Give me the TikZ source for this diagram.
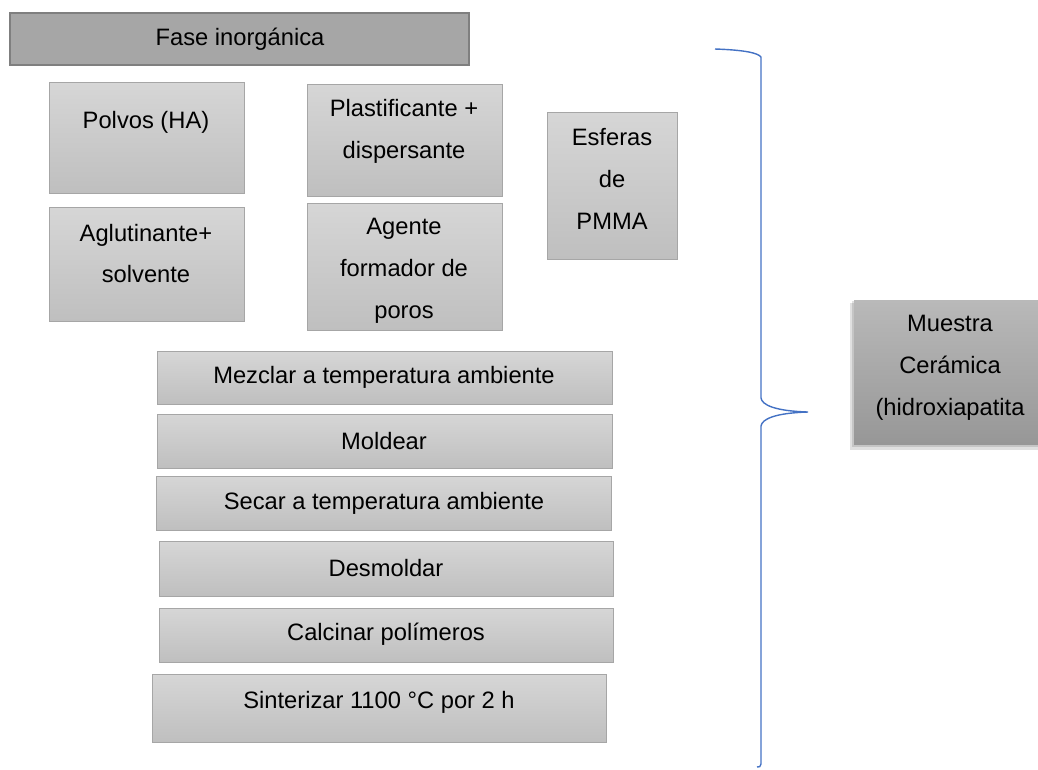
\documentclass[tikz,border=0pt]{standalone}
\usepackage{fontspec}
\setmainfont{Liberation Sans}
\usepackage{tikz}
\definecolor{boxtop}{HTML}{D6D6D6}
\definecolor{boxbot}{HTML}{BFBFBF}
\definecolor{boxline}{HTML}{A6A6A6}
\definecolor{headfill}{HTML}{A6A6A6}
\definecolor{headline}{HTML}{7F7F7F}
\definecolor{resultop}{HTML}{B9B9B9}
\definecolor{resulbot}{HTML}{979797}
\definecolor{bracecol}{HTML}{4472C4}

\begin{document}
\begin{tikzpicture}[
  x=0.02cm,
  y=-0.02cm,
  graybox/.style={
    draw=boxline,
    line width=0.5pt,
    top color=boxtop,
    bottom color=boxbot
  },
  lbl/.style={
    align=center,
    inner sep=0pt,
    font=\fontsize{13.5}{23.8}\selectfont
  }
]
\useasboundingbox (0,0) rectangle (1038,769);
% encabezado
\filldraw[fill=headfill, draw=headline, line width=1.1pt] (10,13) rectangle (469,65);
\node[lbl] (fase) at (240,39) {Fase inorgánica};
% componentes
\shadedraw[graybox] (49,82) rectangle (244,193);
\shadedraw[graybox] (49,207) rectangle (244,321);
\shadedraw[graybox] (307,84) rectangle (502,196);
\shadedraw[graybox] (307,203) rectangle (502,330);
\shadedraw[graybox] (547,112) rectangle (677,259);
\node[lbl] (polvos) at (146,122) {Polvos (HA)};
\node[lbl] (aglut) at (146,253.5) {Aglutinante+\\solvente};
\node[lbl] (plast) at (404,131) {Plastificante +\\dispersante};
\node[lbl] (agente) at (404,271) {Agente\\formador de\\poros};
\node[lbl] (esferas) at (612,179) {Esferas\\de\\PMMA};
% pasos
\shadedraw[graybox] (157,351) rectangle (612,404);
\shadedraw[graybox] (157,414) rectangle (612,468);
\shadedraw[graybox] (156,476) rectangle (611,530);
\shadedraw[graybox] (159,541) rectangle (613,596);
\shadedraw[graybox] (159,608) rectangle (613,662);
\shadedraw[graybox] (152,674) rectangle (606,742);
\node[lbl] (mezclar) at (384,377) {Mezclar a temperatura ambiente};
\node[lbl] (moldear) at (384,441) {Moldear};
\node[lbl] (secar) at (384,503) {Secar a temperatura ambiente};
\node[lbl] (desmoldar) at (386,568) {Desmoldar};
\node[lbl] (calcinar) at (386,634) {Calcinar polímeros};
\node[lbl] (sinterizar) at (379,702) {Sinterizar 1100 °C por 2 h};
% llave
\draw[bracecol, line width=0.8pt] (715,49) .. controls (745,50) and (758,53) .. (761,57)
  -- (761,398) .. controls (762,405) and (775,411) .. (808,412)
  .. controls (775,413) and (762,419) .. (761,426)
  -- (761,764) .. controls (761,767) and (759,767) .. (757,767);
% resultado
\fill[black, opacity=0.12] (850,303) rectangle (1038,450);
\fill[black, opacity=0.12] (852,301) rectangle (1038,447);
\shade[top color=resultop, bottom color=resulbot] (854,300) rectangle (1038,444);
\node[lbl] (muestra) at (950,368) {Muestra\\Cerámica\\(hidroxiapatita};
\end{tikzpicture}
\end{document}
